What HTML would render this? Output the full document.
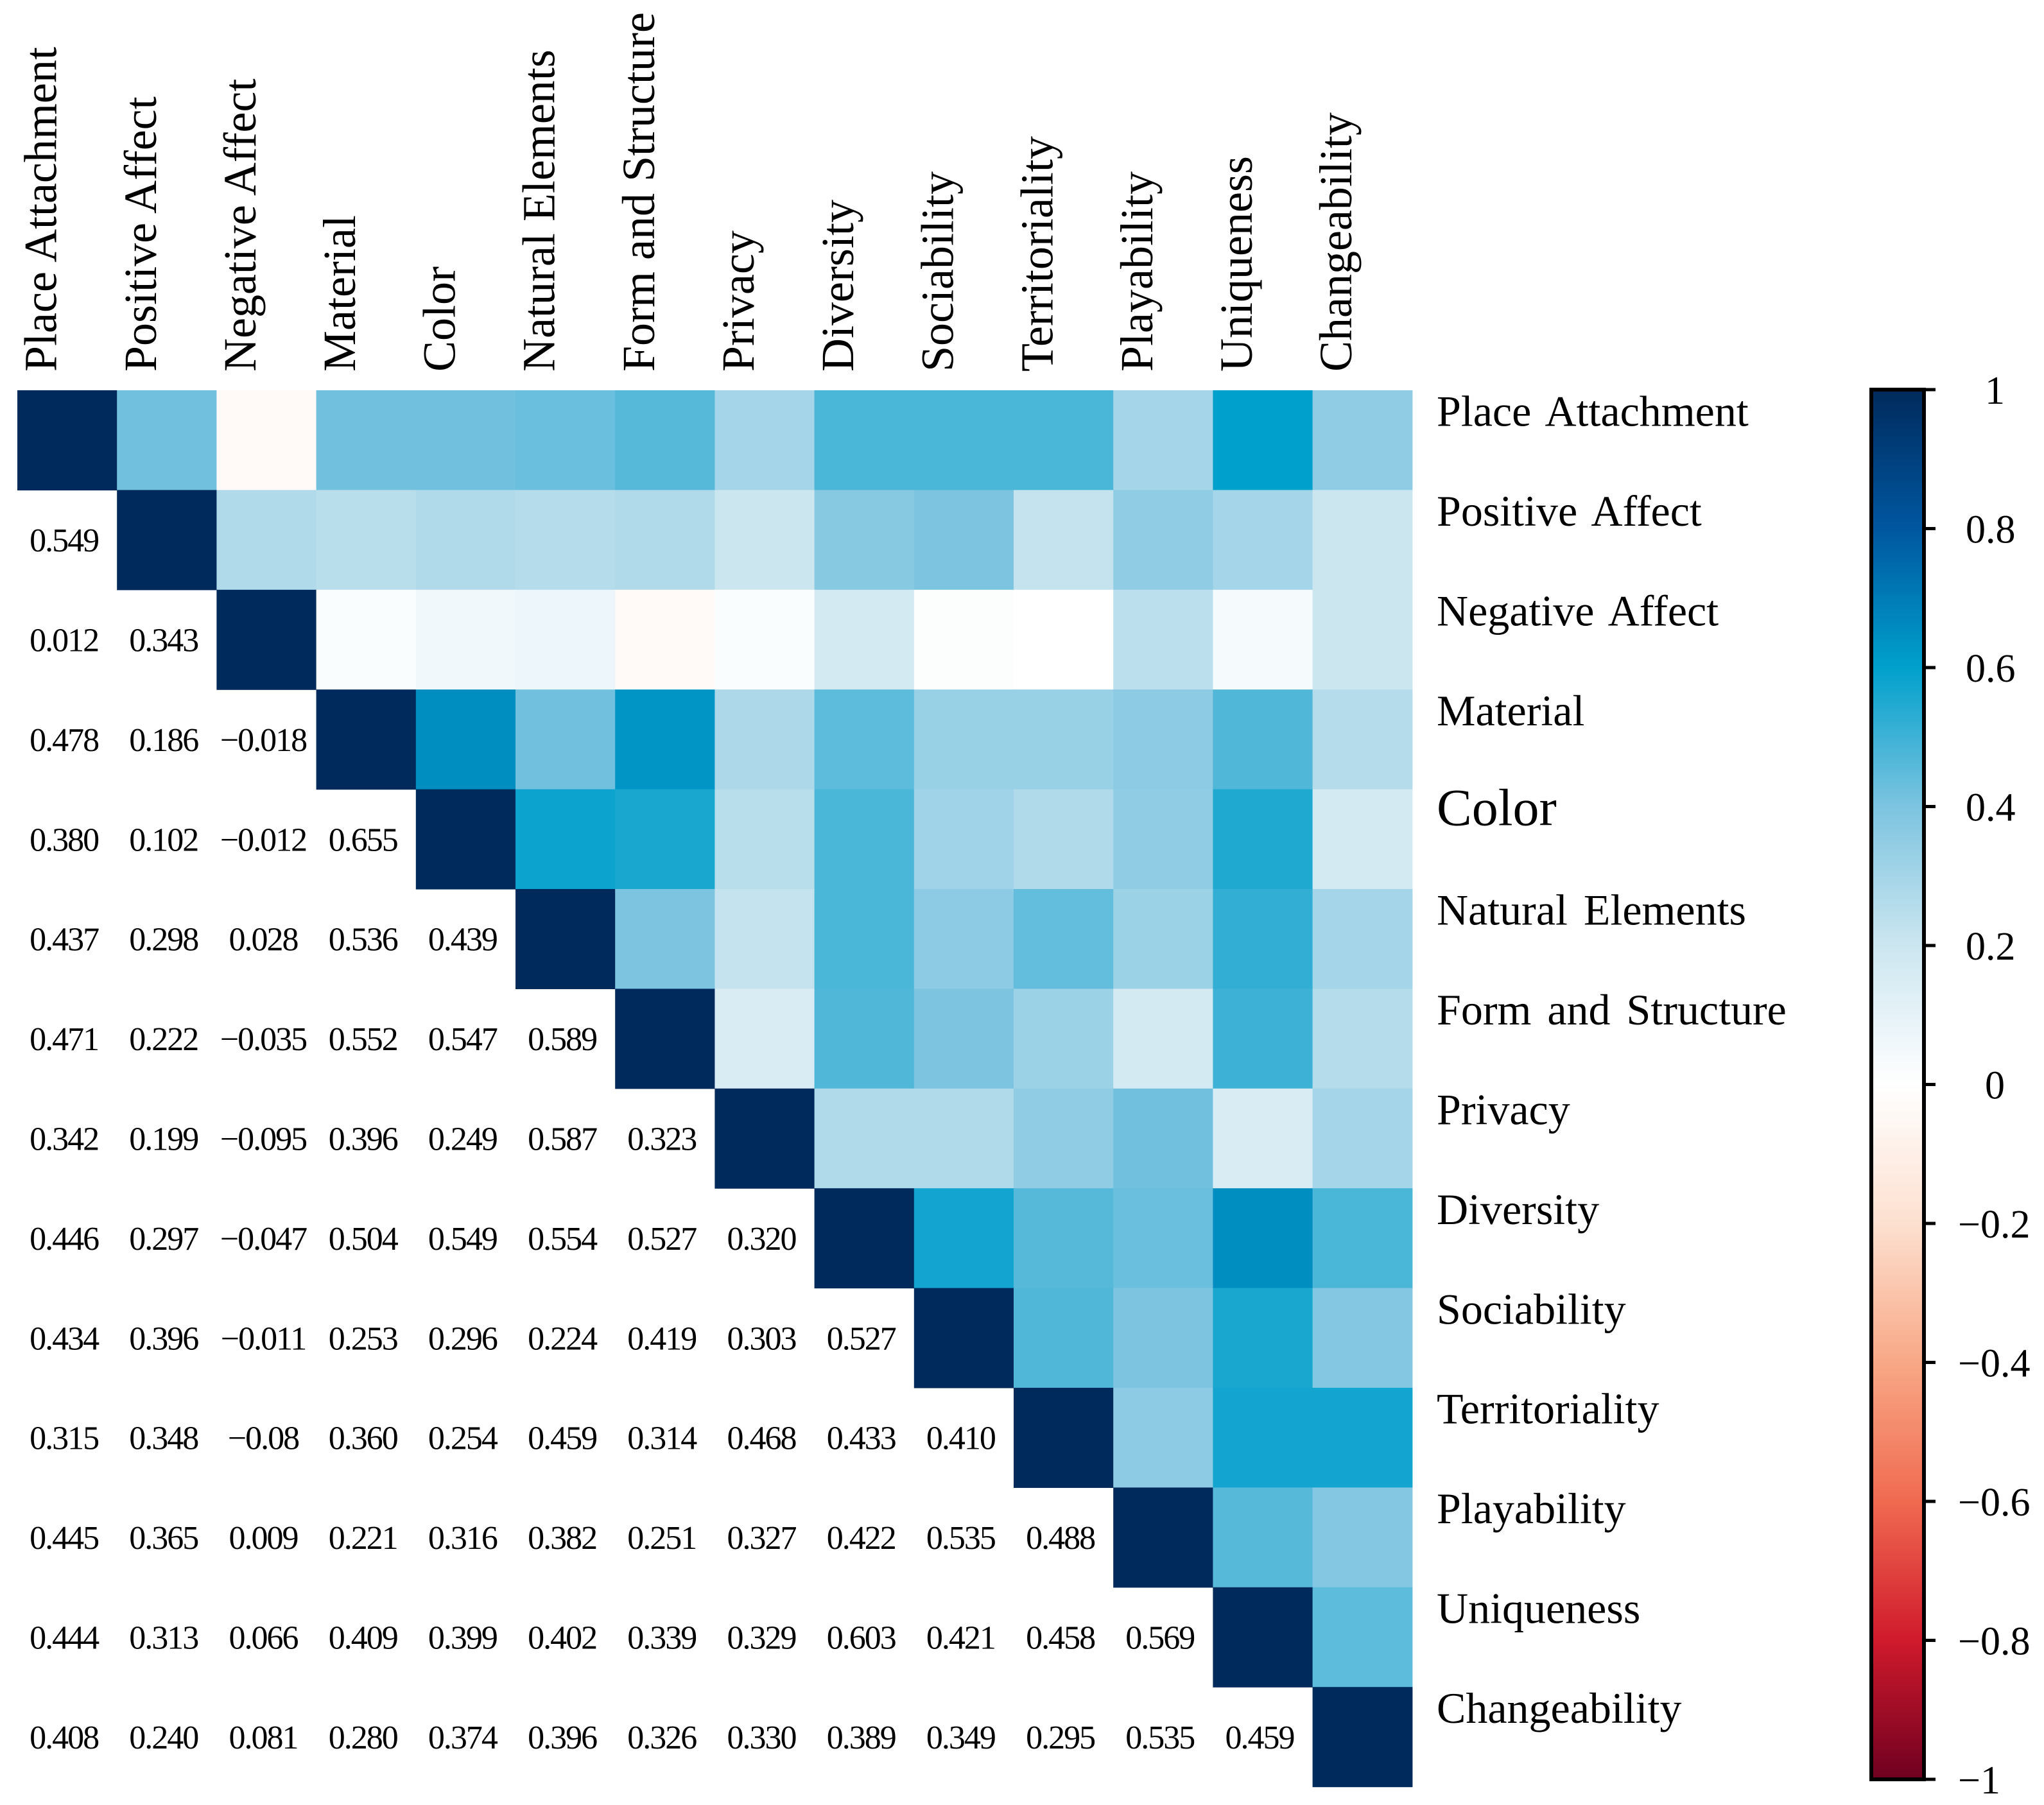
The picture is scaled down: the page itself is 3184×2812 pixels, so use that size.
<!DOCTYPE html>
<html><head><meta charset="utf-8"><style>
html,body{margin:0;padding:0;background:#fff}
svg{display:block}
text{font-family:"Liberation Serif",serif;fill:#000}
</style></head><body>
<svg id="chart" width="3184" height="2812" viewBox="0 0 3184 2812" xmlns="http://www.w3.org/2000/svg">
<defs>
<linearGradient id="cbgrad" x1="0" y1="0" x2="0" y2="1">
<stop offset="0" stop-color="#002a5c"/><stop offset="0.1" stop-color="#0057a0"/><stop offset="0.2" stop-color="#00a0cc"/><stop offset="0.3" stop-color="#7cc4e0"/><stop offset="0.4" stop-color="#cce6f0"/><stop offset="0.5" stop-color="#ffffff"/><stop offset="0.6" stop-color="#fde0d0"/><stop offset="0.7" stop-color="#f8a886"/><stop offset="0.8" stop-color="#f06a50"/><stop offset="0.9" stop-color="#d01a2c"/><stop offset="1" stop-color="#6f0020"/>
</linearGradient>
</defs>
<g id="cells"></g><g id="vals"></g><g id="collabels"></g><g id="rowlabels"></g><g id="colorbar"></g>
</svg>
<script>
const labels = ["Place Attachment","Positive Affect","Negative Affect","Material","Color","Natural Elements","Form and Structure","Privacy","Diversity","Sociability","Territoriality","Playability","Uniqueness","Changeability"];
const lowerVals = [
[],
[0.549],
[0.012,0.343],
[0.478,0.186,-0.018],
[0.380,0.102,-0.012,0.655],
[0.437,0.298,0.028,0.536,0.439],
[0.471,0.222,-0.035,0.552,0.547,0.589],
[0.342,0.199,-0.095,0.396,0.249,0.587,0.323],
[0.446,0.297,-0.047,0.504,0.549,0.554,0.527,0.320],
[0.434,0.396,-0.011,0.253,0.296,0.224,0.419,0.303,0.527],
[0.315,0.348,-0.08,0.360,0.254,0.459,0.314,0.468,0.433,0.410],
[0.445,0.365,0.009,0.221,0.316,0.382,0.251,0.327,0.422,0.535,0.488],
[0.444,0.313,0.066,0.409,0.399,0.402,0.339,0.329,0.603,0.421,0.458,0.569],
[0.408,0.240,0.081,0.280,0.374,0.396,0.326,0.330,0.389,0.349,0.295,0.535,0.459]
];
const lowerText = [
[],["0.549"],["0.012","0.343"],["0.478","0.186","−0.018"],["0.380","0.102","−0.012","0.655"],
["0.437","0.298","0.028","0.536","0.439"],["0.471","0.222","−0.035","0.552","0.547","0.589"],
["0.342","0.199","−0.095","0.396","0.249","0.587","0.323"],["0.446","0.297","−0.047","0.504","0.549","0.554","0.527","0.320"],
["0.434","0.396","−0.011","0.253","0.296","0.224","0.419","0.303","0.527"],
["0.315","0.348","−0.08","0.360","0.254","0.459","0.314","0.468","0.433","0.410"],
["0.445","0.365","0.009","0.221","0.316","0.382","0.251","0.327","0.422","0.535","0.488"],
["0.444","0.313","0.066","0.409","0.399","0.402","0.339","0.329","0.603","0.421","0.458","0.569"],
["0.408","0.240","0.081","0.280","0.374","0.396","0.326","0.330","0.389","0.349","0.295","0.535","0.459"]
];
// upper-triangle cell colour values (row r, columns r+1..13)
const upperVals = [
[0.42,-0.03,0.42,0.42,0.43,0.46,0.30,0.48,0.48,0.48,0.30,0.60,0.35],
[0.27,0.25,0.27,0.26,0.27,0.20,0.37,0.40,0.22,0.35,0.30,0.20],
[0.02,0.06,0.07,-0.03,0.02,0.17,0.01,0.00,0.24,0.04,0.20],
[0.65,0.42,0.63,0.28,0.45,0.33,0.33,0.36,0.47,0.26],
[0.58,0.56,0.25,0.48,0.31,0.27,0.35,0.55,0.17],
[0.40,0.22,0.48,0.36,0.44,0.32,0.52,0.30],
[0.15,0.47,0.40,0.32,0.17,0.50,0.26],
[0.27,0.27,0.35,0.42,0.15,0.30],
[0.57,0.46,0.43,0.65,0.48],
[0.47,0.40,0.56,0.38],
[0.36,0.57,0.57],
[0.46,0.38],
[0.45],
[]
];
const cbTicks = [1,0.8,0.6,0.4,0.2,0,-0.2,-0.4,-0.6,-0.8,-1];
const cbTickText = ["1","0.8","0.6","0.4","0.2","0","−0.2","−0.4","−0.6","−0.8","−1"];

const stopV = [1,0.8,0.6,0.4,0.2,0,-0.2,-0.4,-0.6,-0.8,-1];
const stopC = [[0,42,92],[0,87,160],[0,160,204],[124,196,224],[204,230,240],[255,255,255],[253,224,208],[248,168,134],[240,106,80],[208,26,44],[111,0,32]];
function color(v){
  v=Math.max(-1,Math.min(1,v));
  for(let i=0;i<stopV.length-1;i++){
    if(v<=stopV[i]&&v>=stopV[i+1]){
      const t=(stopV[i]-v)/(stopV[i]-stopV[i+1]);
      const a=stopC[i],b=stopC[i+1];
      return `rgb(${a.map((x,k)=>Math.round(x+(b[k]-x)*t)).join(',')})`;
    }
  }
  return '#fff';
}
const NS="http://www.w3.org/2000/svg";
const X0=27,Y0=608,CW=155.2,CH=155.4;
const xs=c=>X0+c*CW, ys=r=>Y0+r*CH;
function mk(tag,attrs,parent){const e=document.createElementNS(NS,tag);for(const k in attrs)e.setAttribute(k,attrs[k]);parent.appendChild(e);return e;}
const gC=document.getElementById('cells'),gV=document.getElementById('vals'),gCL=document.getElementById('collabels'),gRL=document.getElementById('rowlabels'),gCB=document.getElementById('colorbar');
for(let r=0;r<14;r++){
  let d=mk('rect',{x:xs(r),y:ys(r),width:CW+0.6,height:CH+0.6,fill:color(1)},gC);
  
  
  for(let j=0;j<upperVals[r].length;j++){
    const c=r+1+j;
    const e=mk('rect',{x:xs(c),y:ys(r),width:CW+0.6,height:CH+0.6,fill:color(upperVals[r][j])},gC);
    
    
  }
  for(let c=0;c<lowerVals[r].length;c++){
    const t=mk('text',{x:xs(c)+CW/2-5,y:ys(r)+CH/2+18,'font-size':52,'text-anchor':'middle','letter-spacing':-2},gV);
    t.textContent=lowerText[r][c];
    
    
  }
  const cl=mk('text',{transform:`translate(${xs(r)+CW/2-17},579) rotate(-90)`,'font-size':72},gCL);
  cl.textContent=labels[r];
  
  
  const big = labels[r]==="Color";
  const rl=mk('text',{x:2238,y:ys(r)+CH/2-22,'font-size':big?82:68,'word-spacing':8},gRL);
  rl.textContent=labels[r];
  
  
}
const CBT=607,CBB=2772,CBL=2915,CBR=2997;
const cy=v=>CBT+(1-v)/2*(CBB-CBT);
let bar=mk('rect',{x:CBL,y:CBT,width:CBR-CBL,height:CBB-CBT,fill:'url(#cbgrad)',stroke:'#000','stroke-width':6},gCB);


cbTicks.forEach((v,i)=>{
  const tk=mk('line',{x1:CBR,x2:CBR+18,y1:cy(v),y2:cy(v),stroke:'#000','stroke-width':5},gCB);
  
  
  const t=mk('text',{x:v<0?3050:(v===0||v===1?3092:3062),y:cy(v)+22,'font-size':62},gCB);
  t.textContent=cbTickText[i];
  
  
});
</script>
</body></html>
